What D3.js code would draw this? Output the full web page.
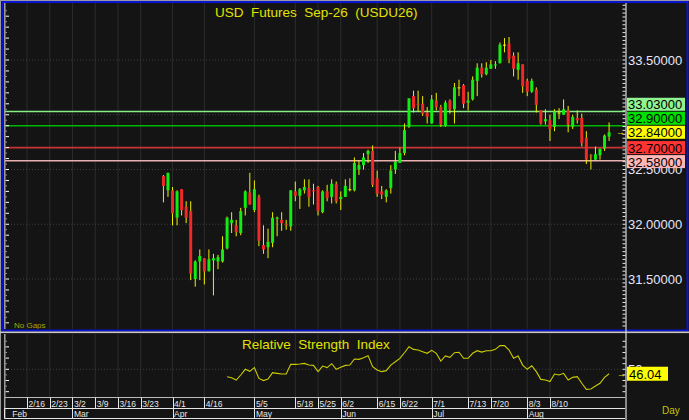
<!DOCTYPE html>
<html>
<head>
<meta charset="utf-8">
<script src="https://cdn.jsdelivr.net/npm/d3@7"></script>
<style>
  html, body { margin: 0; padding: 0; background: #141414; overflow: hidden; }
  text { font-family: "Liberation Sans", Arial, sans-serif; }
</style>
</head>
<body>
<div id="chart"></div>
<script>
// ---- data ----
const firstSlot = 35;   // slot index of the first candle (weekday slots from 2/9)
const opens = [32.44,32.31,32.31,32.06,32.32,32.16,32.12,31.50,31.66,31.69,31.57,31.67,31.66,31.66,31.78,32.01,31.99,31.92,32.15,32.29,
  32.13,32.25,31.81,31.79,31.83,32.05,32.04,32.00,31.98,32.30,32.26,32.31,32.33,32.31,32.34,32.11,32.30,32.25,32.37,32.23,
  32.25,32.32,32.31,32.50,32.54,32.64,32.67,32.42,32.30,32.25,32.33,32.50,32.56,32.65,32.89,33.17,33.10,33.10,33.02,32.92,
  33.13,33.07,32.90,33.13,33.05,33.25,33.27,33.11,33.14,33.31,33.43,33.37,33.42,33.45,33.47,33.64,33.65,33.54,33.41,33.46,
  33.31,33.21,33.23,33.04,32.94,32.95,32.89,33.02,33.00,33.04,32.89,32.97,32.97,32.79,32.63,32.59,32.63,32.69,32.80];
const highs = [32.45,32.47,32.34,32.31,32.32,32.21,32.21,31.67,31.77,31.69,31.77,31.73,31.72,31.89,32.07,32.11,32.04,32.15,32.31,32.47,
  32.40,32.27,31.99,31.96,32.11,32.07,32.11,32.04,32.31,32.39,32.33,32.41,32.41,32.37,32.35,32.31,32.36,32.41,32.39,32.30,
  32.41,32.42,32.61,32.58,32.65,32.68,32.72,32.49,32.35,32.32,32.54,32.67,32.70,32.92,33.15,33.22,33.22,33.17,33.07,33.18,
  33.20,33.09,33.13,33.14,33.29,33.32,33.28,33.21,33.35,33.47,33.47,33.48,33.50,33.49,33.66,33.70,33.71,33.57,33.57,33.46,
  33.33,33.33,33.25,33.04,33.05,33.00,33.05,33.06,33.14,33.08,33.00,33.04,33.01,32.85,32.64,32.71,32.69,32.82,32.93];
const lows = [32.20,32.25,31.99,31.99,32.08,32.01,31.49,31.43,31.49,31.45,31.57,31.35,31.59,31.65,31.77,31.92,31.89,31.90,32.08,32.18,
  32.11,31.80,31.73,31.69,31.79,31.89,31.94,31.95,31.94,32.21,32.14,32.28,32.16,32.18,32.08,32.10,32.21,32.19,32.19,32.13,
  32.25,32.30,32.30,32.45,32.50,32.56,32.34,32.25,32.23,32.20,32.28,32.46,32.56,32.63,32.88,33.02,33.03,32.99,32.92,32.92,
  33.04,32.89,32.89,33.01,32.92,33.17,33.06,33.04,33.13,33.17,33.34,33.36,33.42,33.42,33.47,33.57,33.47,33.35,33.32,33.20,
  33.17,33.20,33.02,32.91,32.91,32.76,32.85,32.96,33.00,32.84,32.87,32.92,32.71,32.55,32.50,32.58,32.59,32.67,32.76];
const closes = [32.35,32.47,32.10,32.30,32.13,32.06,31.55,31.66,31.71,31.57,31.68,31.69,31.70,31.77,32.06,32.04,31.93,32.12,32.30,32.18,
  32.32,31.85,31.77,31.84,32.06,32.06,32.01,31.99,32.31,32.26,32.32,32.34,32.25,32.30,32.12,32.30,32.24,32.37,32.21,32.25,
  32.35,32.32,32.56,32.54,32.61,32.67,32.36,32.28,32.27,32.31,32.49,32.57,32.65,32.86,33.15,33.06,33.09,33.01,32.98,33.14,
  33.07,32.91,33.11,33.05,33.25,33.25,33.10,33.13,33.32,33.43,33.37,33.43,33.46,33.46,33.64,33.64,33.51,33.42,33.47,33.26,
  33.21,33.31,33.09,32.92,32.96,32.87,33.03,33.02,33.05,32.91,32.98,32.95,32.74,32.59,32.62,32.64,32.69,32.81,32.84];

// RSI(14) values, starting 14 candles after the first one
const rsiValues = [43.4,42.5,40.4,44.9,50.0,48.2,51.5,41.9,39.9,41.3,
  47.0,46.4,45.8,45.8,54.4,54.4,54.7,55.3,53.8,53.5,
  47.9,52.9,51.5,55.0,50.0,51.8,53.5,53.8,59.2,58.9,
  60.4,62.2,52.3,49.4,47.9,48.8,53.8,56.8,59.8,64.8,
  70.2,67.8,67.2,65.7,64.3,66.9,64.3,57.4,61.9,60.7,
  64.8,65.2,59.8,59.8,64.3,66.6,65.4,66.6,66.6,67.8,
  71.1,71.1,67.2,59.8,61.9,53.8,50.0,53.2,47.9,41.0,
  40.4,39.0,45.8,44.9,46.4,40.4,42.8,43.4,37.5,32.1,
  32.4,35.1,37.5,42.8,46.04];

// horizontal price levels
const levelValues = [33.03, 32.90, 32.70, 32.58];
const levelLine = ['#86f086', '#00b800', '#c83434', '#eab0b0'];
const levelFill = ['#90f490', '#00e000', '#ff3434', '#ffb6b6'];

// axis labels
const weekLabels = ['2/16','2/23','3/2','3/9','3/16','3/23','4/1','4/16','5/5','5/18','5/25','6/2','6/15','6/22','7/1','7/13','7/20','8/3','8/10'];
const weekSlots  = [5,10,15,20,25,30,37,44,55,64,69,74,82,87,94,102,107,115,120];
const monthLabels = ['Feb','Mar','Apr','May','Jun','Jul','Aug'];
const monthSlots  = [0,15,37,55,74,94,115];
const priceTicks = [31.5, 32.0, 32.5, 33.0, 33.5];
const rsiTicks = [50];

// ---- layout ----
const W = 689, H = 420;
const plotL = 5, plotR = 625;
const mainTop = 3, mainBot = 329;
const rsiTop = 334, rsiBot = 397;

const svg = d3.select('#chart').append('svg')
  .attr('width', W).attr('height', H)
  .attr('viewBox', [0, 0, W, H]);

svg.append('rect').attr('width', W).attr('height', H).attr('fill', '#141414');

const x = d3.scaleLinear().domain([0, 136.5]).range([4.26, plotR]);
const y = d3.scaleLinear().domain([31.5, 33.5]).range([279, 60]);
const yRsi = d3.scaleLinear().domain([50, 75]).range([369.3, 341.3]);

const candles = opens.map((o, k) => ({ i: firstSlot + k, o, h: highs[k], l: lows[k], c: closes[k] }));
const lastClose = closes[closes.length - 1];

const defs = svg.append('defs');
defs.append('clipPath').attr('id', 'clipMain')
  .append('rect').attr('x', plotL).attr('y', mainTop).attr('width', plotR - plotL).attr('height', mainBot - mainTop);
defs.append('clipPath').attr('id', 'clipRsi')
  .append('rect').attr('x', plotL).attr('y', rsiTop).attr('width', plotR - plotL).attr('height', rsiBot - rsiTop);

// frame: gray outer line, blue border round the price panel
svg.append('line').attr('x1', 0).attr('x2', W).attr('y1', 0.5).attr('y2', 0.5).attr('stroke', '#9a9a9a');
svg.append('line').attr('x1', 0.5).attr('x2', 0.5).attr('y1', 0).attr('y2', H).attr('stroke', '#9a9a9a');
svg.append('rect').attr('x', 2.5).attr('y', 2).attr('width', W - 4).attr('height', 328.5)
  .attr('fill', 'none').attr('stroke', '#0a14d2').attr('stroke-width', 2);
svg.append('rect').attr('x', 0).attr('y', 331.5).attr('width', W).attr('height', 1.6).attr('fill', '#c8c8c8');

// ---- price panel ----
const main = svg.append('g').attr('clip-path', 'url(#clipMain)');

main.selectAll('line.vgrid').data(weekSlots).enter().append('line')
  .attr('x1', d => x(d)).attr('x2', d => x(d))
  .attr('y1', mainTop).attr('y2', mainBot)
  .attr('stroke', '#2c2c2c');

main.selectAll('line.hgrid').data(priceTicks).enter().append('line')
  .attr('x1', plotL).attr('x2', plotR)
  .attr('y1', d => y(d)).attr('y2', d => y(d))
  .attr('stroke', '#3e3e3e').attr('stroke-dasharray', '1,2');

main.selectAll('line.level').data(levelValues).enter().append('line')
  .attr('x1', plotL).attr('x2', plotR)
  .attr('y1', d => y(d)).attr('y2', d => y(d))
  .attr('stroke', (d, k) => levelLine[k]).attr('stroke-width', 1.6);

const cg = main.selectAll('g.candle').data(candles).enter().append('g');
cg.append('line')
  .attr('x1', d => x(d.i)).attr('x2', d => x(d.i))
  .attr('y1', d => y(d.h)).attr('y2', d => y(d.l))
  .attr('stroke', '#f0f000').attr('stroke-width', 1);
cg.append('rect')
  .attr('x', d => x(d.i) - 1.5).attr('width', 3)
  .attr('y', d => y(Math.max(d.o, d.c)))
  .attr('height', d => Math.max(1, Math.abs(y(d.o) - y(d.c))))
  .attr('fill', d => d.c > d.o ? '#12ec12' : d.c < d.o ? '#f02828' : '#f0f000');

main.append('text').attr('x', 14).attr('y', 328).attr('font-size', 8)
  .attr('fill', '#a8a800').text('No Gaps');

svg.append('text').attr('x', 215).attr('y', 17).attr('font-size', 13.5)
  .attr('fill', '#e2e200').style('white-space', 'pre')
  .text('USD  Futures  Sep-26  (USDU26)');

// left minor ticks
const leftTicks = d3.range(31.0, 34.26, 0.05).filter(v => y(v) > mainTop + 4 && y(v) < mainBot - 1);
svg.selectAll('line.lt').data(leftTicks).enter().append('line')
  .attr('x1', 5.5).attr('x2', d => Math.round(d * 100) % 10 === 0 ? 9 : 7)
  .attr('y1', d => y(d)).attr('y2', d => y(d))
  .attr('stroke', d => Math.round(d * 100) % 10 === 0 ? '#ffffff' : '#a0a0a0');
svg.append('line').attr('x1', 4.8).attr('x2', 4.8).attr('y1', mainTop).attr('y2', mainBot)
  .attr('stroke', '#a8a8a8').attr('stroke-width', 1.4);

// right axis
svg.append('line').attr('x1', 626).attr('x2', 626).attr('y1', mainTop).attr('y2', H)
  .attr('stroke', '#d8d8d8').attr('stroke-width', 1.2);
const rightTicks = d3.range(0, 140).map(k => 31.0 + k / 28).filter(v => y(v) > mainTop + 2 && y(v) < mainBot - 1);
svg.selectAll('line.rt').data(rightTicks).enter().append('line')
  .attr('x1', 622.5).attr('x2', 625.5)
  .attr('y1', d => y(d)).attr('y2', d => y(d))
  .attr('stroke', '#e8e8e8');

// value tags, stacked away from the last price tag
const boxH = 13, gap = 1;
const tags = levelValues.map((v, k) => ({ v, fill: levelFill[k], cy: y(v) }));
const lastTag = { v: lastClose, fill: '#ffff00', cy: y(lastClose) };
let limit = lastTag.cy - boxH / 2 - gap;
tags.filter(t => t.v > lastClose).sort((a, b) => a.v - b.v).forEach(t => {
  t.cy = Math.min(t.cy, limit - boxH / 2);
  limit = t.cy - boxH / 2 - gap;
});
limit = lastTag.cy + boxH / 2 + gap;
tags.filter(t => t.v < lastClose).sort((a, b) => b.v - a.v).forEach(t => {
  t.cy = Math.max(t.cy, limit + boxH / 2);
  limit = t.cy + boxH / 2 + gap;
});
const allTags = tags.concat([lastTag]);

// axis labels that sit wholly under a tag are not drawn (they are hidden in the original)
const tagTop = d3.min(allTags, t => t.cy - boxH / 2);
const tagBot = d3.max(allTags, t => t.cy + boxH / 2);
const shownTicks = priceTicks.filter(v => y(v) - 4.5 < tagTop || y(v) + 4.5 > tagBot);
svg.selectAll('text.pl').data(shownTicks).enter().append('text')
  .attr('x', 628).attr('y', d => y(d) + 4.5).attr('font-size', 13)
  .attr('fill', '#e6e6fa').text(d => d3.format('.5f')(d));

const tg = svg.selectAll('g.tag').data(allTags).enter().append('g');
tg.append('rect').attr('x', 627).attr('width', 58)
  .attr('y', d => d.cy - boxH / 2).attr('height', boxH)
  .attr('fill', d => d.fill);
tg.append('text').attr('x', 628).attr('y', d => d.cy + 5).attr('font-size', 13)
  .attr('fill', '#000').text(d => d3.format('.5f')(d.v));
svg.append('text').attr('x', 616).attr('y', y(lastClose) + 3).attr('font-size', 9)
  .attr('fill', '#e0e000').text('→');

// ---- RSI panel ----
const rsi = svg.append('g').attr('clip-path', 'url(#clipRsi)');
rsi.selectAll('line.vgrid').data(weekSlots).enter().append('line')
  .attr('x1', d => x(d)).attr('x2', d => x(d))
  .attr('y1', rsiTop).attr('y2', rsiBot)
  .attr('stroke', '#2c2c2c');
rsi.selectAll('line.hgrid').data(rsiTicks).enter().append('line')
  .attr('x1', plotL).attr('x2', plotR)
  .attr('y1', d => yRsi(d)).attr('y2', d => yRsi(d))
  .attr('stroke', '#3e3e3e').attr('stroke-dasharray', '1,2');
const rsiStart = firstSlot + closes.length - rsiValues.length;
rsi.append('path').datum(rsiValues)
  .attr('d', d3.line().x((d, k) => x(rsiStart + k)).y(d => yRsi(d)))
  .attr('fill', 'none').attr('stroke', '#cccc00').attr('stroke-width', 1.1);

svg.append('text').attr('x', 242).attr('y', 349).attr('font-size', 13.5)
  .attr('fill', '#e2e200').style('white-space', 'pre')
  .text('Relative  Strength  Index');

const rsiMinor = d3.range(25, 80, 5).filter(v => yRsi(v) > rsiTop + 2 && yRsi(v) < rsiBot - 1);
svg.selectAll('line.rlt').data(rsiMinor).enter().append('line')
  .attr('x1', 5.5).attr('x2', d => d % 10 === 0 ? 9 : 7)
  .attr('y1', d => yRsi(d)).attr('y2', d => yRsi(d))
  .attr('stroke', d => d % 10 === 0 ? '#ffffff' : '#a0a0a0');
svg.append('line').attr('x1', 4.8).attr('x2', 4.8).attr('y1', rsiTop).attr('y2', rsiBot)
  .attr('stroke', '#a8a8a8').attr('stroke-width', 1.4);
svg.selectAll('line.rrt').data(rsiMinor).enter().append('line')
  .attr('x1', 622.5).attr('x2', 625.5)
  .attr('y1', d => yRsi(d)).attr('y2', d => yRsi(d))
  .attr('stroke', '#e8e8e8');
svg.selectAll('text.rl').data(rsiTicks).enter().append('text')
  .attr('x', 628).attr('y', d => yRsi(d) + 4.5).attr('font-size', 13)
  .attr('fill', '#e6e6fa').text(d => d);

const lastRsi = rsiValues[rsiValues.length - 1];
svg.append('rect').attr('x', 627).attr('y', yRsi(lastRsi) - 7).attr('width', 41).attr('height', 14)
  .attr('fill', '#ffff00');
svg.append('text').attr('x', 629).attr('y', yRsi(lastRsi) + 5).attr('font-size', 13)
  .attr('fill', '#000').text(d3.format('.2f')(lastRsi));
svg.append('text').attr('x', 617).attr('y', yRsi(lastRsi) + 3).attr('font-size', 9)
  .attr('fill', '#e0e000').text('→');

// ---- date axis ----
const rowA = 397.5, rowB = 408.5, rowC = 418.5;
[rowA, rowB, rowC].forEach(r => {
  svg.append('line').attr('x1', 4.5).attr('x2', plotR).attr('y1', r).attr('y2', r)
    .attr('stroke', r === rowA ? '#bcbcbc' : '#e6e6e6');
});
svg.append('line').attr('x1', 4.8).attr('x2', 4.8).attr('y1', rowA).attr('y2', rowC).attr('stroke', '#e6e6e6');
svg.selectAll('line.wk').data(weekSlots).enter().append('line')
  .attr('x1', d => Math.round(x(d)) + 0.5).attr('x2', d => Math.round(x(d)) + 0.5)
  .attr('y1', rowA).attr('y2', rowB).attr('stroke', '#e6e6e6');
svg.selectAll('text.wk').data(weekLabels).enter().append('text')
  .attr('x', (d, k) => x(weekSlots[k]) + 1.5).attr('y', 406.5)
  .attr('font-size', 8.5).attr('fill', '#e8e8e8').text(d => d);
svg.selectAll('line.mo').data(monthSlots).enter().append('line')
  .attr('x1', d => Math.round(x(d)) + 0.5).attr('x2', d => Math.round(x(d)) + 0.5)
  .attr('y1', rowB).attr('y2', rowC).attr('stroke', '#e6e6e6');
svg.selectAll('text.mo').data(monthLabels).enter().append('text')
  .attr('x', (d, k) => x(monthSlots[k]) + (k === 0 ? 8 : 1.5)).attr('y', 416.5)
  .attr('font-size', 8.5).attr('fill', '#e8e8e8').text(d => d);
svg.append('text').attr('x', 662).attr('y', 414).attr('font-size', 10)
  .attr('fill', '#c4c400').text('Day');
</script>
</body>
</html>
